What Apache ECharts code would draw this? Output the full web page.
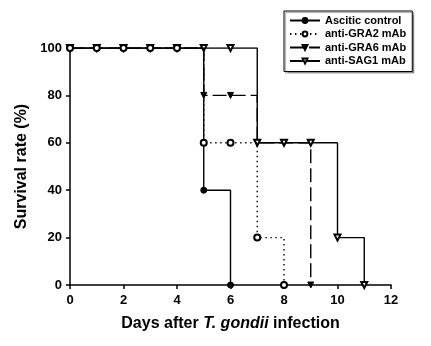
<!DOCTYPE html>
<html>
<head>
<meta charset="utf-8">
<script src="https://cdn.jsdelivr.net/npm/echarts@6/dist/echarts.min.js"></script>
<style>
  html, body { margin: 0; padding: 0; background: #fff; }
  #chart { width: 431px; height: 346px; }
</style>
</head>
<body>
<div id="chart"></div>
<script>
// Survival (%) by day after infection, one value per day starting at day 0
const seriesNames = ['Ascitic control', 'anti-GRA2 mAb', 'anti-GRA6 mAb', 'anti-SAG1 mAb'];
const controlSurvival = [100, 100, 100, 100, 100, 40, 0];
const gra2Survival    = [100, 100, 100, 100, 100, 60, 60, 20, 0];
const gra6Survival    = [100, 100, 100, 100, 100, 80, 80, 60, 60, 0];
const sag1Survival    = [100, 100, 100, 100, 100, 100, 100, 60, 60, 60, 20, 0];
const xTicks = [0, 2, 4, 6, 8, 10, 12];
const yTicks = [0, 20, 40, 60, 80, 100];

const FONT = '"Liberation Sans", Arial, sans-serif';
const toPairs = arr => arr.map((v, day) => [day, v]);

function kmSeries(name, values, symbol, size, lineType, z, rotate) {
  return {
    name: name,
    type: 'line',
    step: 'end',
    data: toPairs(values),
    symbol: symbol,
    symbolSize: size,
    symbolRotate: rotate || 0,
    z: z,
    itemStyle: { color: '#000', borderColor: '#000', borderWidth: 1 },
    lineStyle: { color: '#000', width: 1.4, type: lineType },
    emphasis: { disabled: true },
    animation: false
  };
}

const chart = echarts.init(document.getElementById('chart'), null, { renderer: 'canvas' });
chart.setOption({
  backgroundColor: '#fff',
  animation: false,
  grid: { left: 70, right: 40, top: 48, bottom: 61 },
  legend: {
    data: seriesNames,
    orient: 'vertical',
    left: 284,
    top: 11,
    itemWidth: 30,
    itemHeight: 6,
    itemGap: 2.5,
    padding: [4, 6, 5, 5],
    borderColor: '#000',
    borderWidth: 1,
    backgroundColor: '#fff',
    shadowColor: 'rgba(0,0,0,0.35)',
    shadowOffsetX: 1.5,
    shadowOffsetY: 1.5,
    shadowBlur: 1,
    textStyle: { fontFamily: FONT, fontWeight: 'bold', fontSize: 11, color: '#000' }
  },
  xAxis: {
    type: 'value',
    min: xTicks[0],
    max: xTicks[xTicks.length - 1],
    interval: xTicks[1] - xTicks[0],
    name: '{n|Days after }{i|T. gondii}{n| infection}',
    nameLocation: 'middle',
    nameGap: 31,
    nameTextStyle: {
      rich: {
        n: { fontFamily: FONT, fontWeight: 'bold', fontSize: 16, color: '#000' },
        i: { fontFamily: FONT, fontWeight: 'bold', fontStyle: 'italic', fontSize: 16, color: '#000' }
      }
    },
    axisLine: { lineStyle: { color: '#000', width: 1.5 } },
    axisTick: { show: true, length: 4, lineStyle: { color: '#000', width: 1.5 } },
    axisLabel: { margin: 9, fontFamily: FONT, fontWeight: 'bold', fontSize: 13, color: '#000' },
    splitLine: { show: false }
  },
  yAxis: {
    type: 'value',
    min: yTicks[0],
    max: yTicks[yTicks.length - 1],
    interval: yTicks[1] - yTicks[0],
    name: 'Survival rate (%)',
    nameLocation: 'middle',
    nameGap: 40,
    nameTextStyle: { fontFamily: FONT, fontWeight: 'bold', fontSize: 16, color: '#000' },
    axisLine: { show: true, lineStyle: { color: '#000', width: 1.5 } },
    axisTick: { show: true, length: 4, lineStyle: { color: '#000', width: 1.5 } },
    axisLabel: { margin: 8, fontFamily: FONT, fontWeight: 'bold', fontSize: 13, color: '#000' },
    splitLine: { show: false }
  },
  series: [
    kmSeries(seriesNames[0], controlSurvival, 'circle', 6, 'solid', 4),
    kmSeries(seriesNames[1], gra2Survival, 'emptyCircle', 6, [1.4, 3.6], 5),
    kmSeries(seriesNames[2], gra6Survival, 'triangle', 6, [14, 5], 2, 180),
    kmSeries(seriesNames[3], sag1Survival, 'emptyTriangle', 6, 'solid', 3, 180)
  ]
});
</script>
</body>
</html>
